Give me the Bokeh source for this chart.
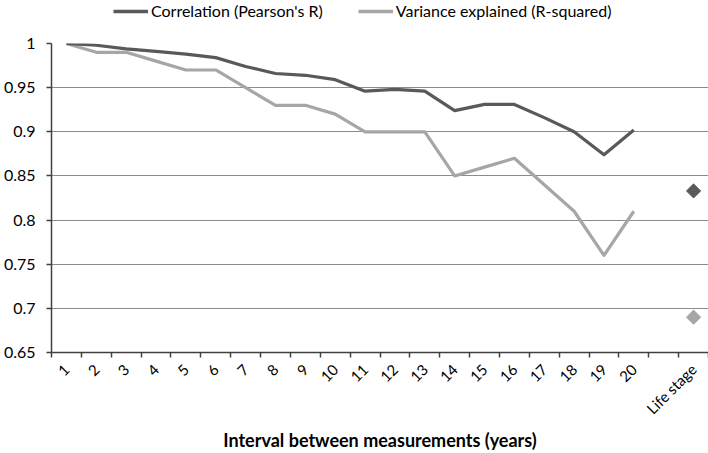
import math
from bokeh.plotting import figure
from bokeh.layouts import column
from bokeh.models import (Range1d, FixedTicker, NumeralTickFormatter, Legend, LegendItem,
                          ColumnDataSource, LinearAxis, Grid)
from bokeh.embed import file_html
from bokeh.resources import INLINE

# ---- data ----
interval_labels = [str(i) for i in range(1, 21)]
life_stage_label = "Life stage"
correlation = [1.0, 0.998, 0.994, 0.991, 0.988, 0.984, 0.974, 0.966, 0.964, 0.959,
               0.946, 0.948, 0.946, 0.924, 0.931, 0.931, 0.916, 0.900, 0.874, 0.902]
variance = [1.0, 0.99, 0.99, 0.98, 0.97, 0.97, 0.95, 0.93, 0.93, 0.92,
            0.90, 0.90, 0.90, 0.85, 0.86, 0.87, 0.84, 0.81, 0.76, 0.81]
life_stage_corr = 0.833
life_stage_var = 0.69
y_ticks = [0.65, 0.7, 0.75, 0.8, 0.85, 0.9, 0.95, 1.0]
series_names = ["Correlation (Pearson's R)", "Variance explained (R-squared)"]

# category positions (blank slot before "Life stage")
all_labels = interval_labels + ["", life_stage_label]
n_cat = len(all_labels)
xs = list(range(1, len(interval_labels) + 1))
x_life = n_cat

DARK = "#595959"
LIGHT = "#a6a6a6"
FONT = "Lato"
W = 708

# ---- legend strip ----
top = figure(width=W, height=30, output_backend="svg", toolbar_location=None,
             x_range=Range1d(0, 1), y_range=Range1d(0, 1),
             min_border_left=0, min_border_right=0, min_border_top=0, min_border_bottom=0,
             x_axis_type=None, y_axis_type=None)
top.outline_line_color = None
top.xgrid.visible = False
top.ygrid.visible = False
# legend proxies (their data lies outside the strip's ranges, so only the legend shows)
l_corr = top.line([5, 6], [5, 6], line_color=DARK, line_width=3.5)
l_var = top.line([5, 6], [5, 6], line_color=LIGHT, line_width=3.5)
legend = Legend(items=[LegendItem(label=series_names[0], renderers=[l_corr]),
                       LegendItem(label=series_names[1], renderers=[l_var])],
                orientation="horizontal", location=(62, 10),
                padding=0, margin=0, spacing=35, label_standoff=3,
                glyph_width=35, glyph_height=18, label_height=18,
                label_text_font=FONT, label_text_font_size="16px", label_text_color="#000000",
                border_line_color=None, background_fill_alpha=0)
top.add_layout(legend, "center")

# ---- main chart ----
p = figure(width=W, height=423, output_backend="svg", toolbar_location=None,
           x_range=Range1d(0.5, n_cat + 0.5), y_range=Range1d(0.65, 1.0),
           min_border_left=48, min_border_right=0, min_border_top=13, min_border_bottom=100,
           x_axis_type=None, y_axis_type=None)
p.outline_line_color = None
p.background_fill_color = "white"

xaxis = LinearAxis(
    ticker=FixedTicker(ticks=list(range(1, n_cat + 1)),
                       minor_ticks=[i + 0.5 for i in range(0, n_cat + 1)]),
    major_label_overrides={i + 1: lab for i, lab in enumerate(all_labels)},
    major_label_orientation=math.pi / 4,
    major_tick_out=0, major_tick_in=0,
    minor_tick_out=5, minor_tick_in=0,
    minor_tick_line_color="#404040", minor_tick_line_width=1.5,
    axis_line_color="#404040", axis_line_width=1.5,
    major_label_text_font=FONT, major_label_text_font_size="15px",
    major_label_text_color="#000000", major_label_standoff=9,
    axis_label="Interval between measurements (years)",
    axis_label_text_font=FONT, axis_label_text_font_size="18px",
    axis_label_text_font_style="bold", axis_label_text_color="#000000",
    axis_label_standoff=2,
)
p.add_layout(xaxis, "below")

yaxis = LinearAxis(
    ticker=FixedTicker(ticks=y_ticks, minor_ticks=[]),
    formatter=NumeralTickFormatter(format="0.[00]"),
    major_tick_out=5, major_tick_in=0,
    major_tick_line_color="#404040", major_tick_line_width=1.5,
    axis_line_color="#404040", axis_line_width=1.5,
    major_label_text_font=FONT, major_label_text_font_size="16px",
    major_label_text_color="#000000", major_label_standoff=11,
)
p.add_layout(yaxis, "left")

grid = Grid(dimension=1, ticker=yaxis.ticker, grid_line_color="#8c8c8c", grid_line_width=1.2)
p.add_layout(grid)

src = ColumnDataSource(dict(x=xs, corr=correlation, var=variance))
p.line("x", "var", source=src, line_color=LIGHT, line_width=3.2, line_join="round")
p.line("x", "corr", source=src, line_color=DARK, line_width=3.2, line_join="round")

p.scatter([x_life], [life_stage_corr], marker="square", angle=math.pi / 4, size=10, color=DARK)
p.scatter([x_life], [life_stage_var], marker="square", angle=math.pi / 4, size=10, color=LIGHT)

layout = column(top, p, spacing=0)
open("out.html", "w").write(file_html(layout, INLINE))
